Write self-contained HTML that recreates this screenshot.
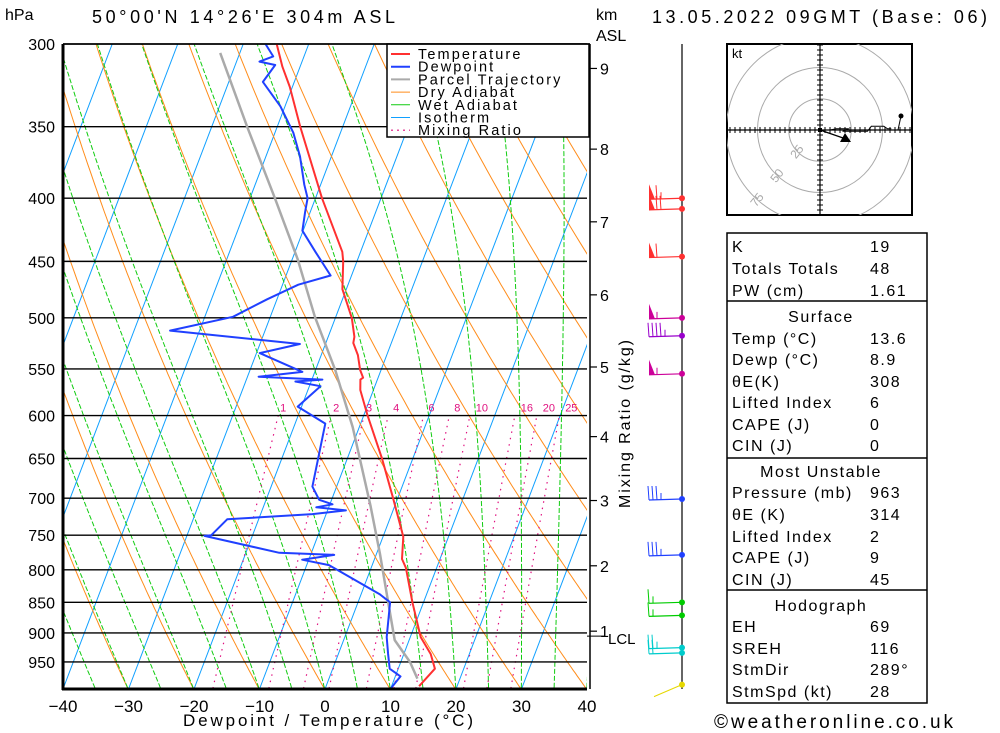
<!DOCTYPE html>
<html><head><meta charset="utf-8"><style>
html,body{margin:0;padding:0;background:#fff;}
svg{display:block;font-family:"Liberation Sans",sans-serif;}
</style></head><body>
<svg id="chart" width="1000" height="733" viewBox="0 0 1000 733">
<defs><clipPath id="plotclip"><rect x="63" y="44" width="524" height="645"/></clipPath>
<clipPath id="hodoclip"><rect x="727" y="44" width="185" height="171"/></clipPath></defs>
<rect x="0" y="0" width="1000" height="733" fill="#fff"/>
<g id="bg" clip-path="url(#plotclip)"></g>
<g id="plines"></g>
<g id="profiles" clip-path="url(#plotclip)"></g>
<g id="legend">
<rect x="387" y="44" width="202" height="93" fill="#fff" stroke="#000" stroke-width="1.5"/>
</g>
<g id="axes"></g>
<g id="winds"></g>
<g id="hodo"></g>
<g id="table"></g>
<text x="5" y="20" font-size="16">hPa</text>
<text x="92" y="23" font-size="18" textLength="303" lengthAdjust="spacing">50°00'N 14°26'E 304m ASL</text>
<text x="596" y="20" font-size="16">km</text>
<text x="596" y="41" font-size="16">ASL</text>
<text x="652" y="23" font-size="18" textLength="335" lengthAdjust="spacing">13.05.2022 09GMT (Base: 06)</text>
<text x="183" y="726" font-size="17" textLength="290" lengthAdjust="spacing">Dewpoint / Temperature (°C)</text>
<text x="714" y="728" font-size="19" textLength="239" lengthAdjust="spacing">©weatheronline.co.uk</text>
<text transform="translate(630,424) rotate(-90)" x="-84" y="0" font-size="16" textLength="168" lengthAdjust="spacing">Mixing Ratio (g/kg)</text>
</svg>
<script>
// ---- data ----
const tempP=[300,313,325,350,400,442,450,474,500,518,524,536,551,559,561,572,600,650,700,752,784,797,850,907,936,962,994];
const tempT=[-44.9,-42.7,-40.4,-36.5,-29.0,-22.8,-22.1,-20.6,-17.5,-16.0,-15.8,-14.4,-13.2,-12.3,-12.6,-12.0,-9.4,-4.7,-0.7,3.1,4.2,5.3,8.3,11.6,14.1,15.6,14.2];
const dewP=[300,307,310,312,322,337,354,370,390,400,410,425,442,462,470,483,499,512,525,534,553,558,561,563,568,590,609,639,685,702,708,712,716,721,728,750,751,775,778,785,793,837,850,907,936,962,976,1001];
const dewT=[-46.6,-44.7,-46.5,-43.9,-44.8,-40.7,-37.2,-34.8,-32.5,-31.2,-30.8,-30.1,-26.9,-23.2,-27.6,-31.5,-35.7,-44.5,-23.9,-29.5,-21.9,-28.3,-18.4,-22.4,-18.3,-20.6,-15.4,-14.7,-13.7,-11.9,-9.6,-11.9,-7.2,-12.1,-24.8,-26.3,-27.3,-14.9,-6.4,-11.0,-6.6,2.8,4.9,6.4,7.6,8.7,10.8,9.9];
const parcelP=[305,350,400,448,499,551,613,710,776,850,912,950,980];
const parcelT=[-53.0,-44.6,-36.2,-29.2,-23.2,-17.0,-11.0,-3.7,0.5,4.6,7.8,11.4,13.5];
const pressureTicks=[300,350,400,450,500,550,600,650,700,750,800,850,900,950];
const tempTicks=[-40,-30,-20,-10,0,10,20,30,40];
const mixRatios=[1,2,3,4,6,8,10,16,20,25];
const kmTicks=[1,2,3,4,5,6,7,8,9];
const kmPressure=[897,794,703,624,548,479,418,365,314];
const windP=[400,408,446,500,517,555,701,778,850,871,925,934,991];
const windSpd=[65,70,60,55,45,55,35,35,15,15,25,20,5];
const windColor=['#ff3030','#ff3030','#ff3030','#cc0099','#9900cc','#cc0099','#2040ff','#2040ff','#00cc00','#00cc00','#00cccc','#00cccc','#e6d800'];
// ---- axis functions ----
const X0=63,X1=587,Y0=44,Y1=689,PXC=6.55,SK=0.381,LN=536.1;
function yP(p){return Y0+LN*Math.log(p/300);}
function xT(T,y){return X0+(T+40)*PXC+(Y1-y)*SK;}
const NS='http://www.w3.org/2000/svg';
function el(tag,attrs,parent){const e=document.createElementNS(NS,tag);for(const k in attrs)e.setAttribute(k,attrs[k]);parent.appendChild(e);return e;}
function pts(arr){return arr.map(a=>a[0].toFixed(1)+','+a[1].toFixed(1)).join(' ');}
const bg=document.getElementById('bg');
// isotherms
for(let T=-120;T<=40;T+=10){
 const l=el('line',{x1:xT(T,Y1),y1:Y1,x2:xT(T,Y0),y2:Y0,stroke:'#10a0ff','stroke-width':1},bg);
 
 
}
// dry adiabats
for(let T0=-40;T0<=220;T0+=10){
 const th=T0+273.15;const a=[];
 for(let p=1010;p>=295;p-=5){const T=th*Math.pow(p/1000,0.286)-273.15;const y=yP(p);a.push([xT(T,y),y]);}
 const l=el('polyline',{points:pts(a),fill:'none',stroke:'#ff8c1a','stroke-width':1},bg);
 
 
}
// moist adiabats
function es(Tc){return 6.112*Math.exp(17.67*Tc/(Tc+243.5));}
for(let T0=-40;T0<=40;T0+=5){
 let T=T0+273.15;const a=[];
 for(let p=1000;p>=295;p-=2){
  const y=yP(p);a.push([xT(T-273.15,y),y]);
  const e=es(T-273.15);const rs=0.622*e/(p-e);
  const d=(287*T+2.5e6*rs)/p/(1004+2.5e6*2.5e6*rs*0.622/(287*T*T));
  T-=d*2;
 }
 a.unshift([xT(T0+0.3,yP(1010)),yP(1010)]);
 const l=el('polyline',{points:pts(a),fill:'none',stroke:'#10cc10','stroke-width':1,'stroke-dasharray':'5,2'},bg);
 
 
}
// mixing ratio
function tdw(w,p){const e=w*p/(622+w);const L=Math.log(e/6.112);return 243.5*L/(17.67-L);}
mixRatios.forEach(w=>{
 const a=[];for(let p=1010;p>=600;p-=5){const y=yP(p);a.push([xT(tdw(w,p),y),y]);}
 const l=el('polyline',{points:pts(a),fill:'none',stroke:'#e0107f','stroke-width':1.2,'stroke-dasharray':'1.5,5'},bg);
 
 
 const y=yP(600);
 const t=el('text',{x:xT(tdw(w,600),y)+(w<4?5:w<10?8:12),y:y-4,'font-size':11,fill:'#e0107f','text-anchor':'middle'},bg);
 t.textContent=w;
 
 
});
// pressure lines + labels
const pl=document.getElementById('plines');
pressureTicks.forEach(p=>{
 const y=yP(p);
 const l=el('line',{x1:X0,y1:y,x2:X1,y2:y,stroke:'#000','stroke-width':1.4},pl);
 
 
 const t=el('text',{x:55,y:y+6,'font-size':16,'text-anchor':'end'},pl);
 t.textContent=p;
 
 
});
// profiles
const pr=document.getElementById('profiles');
function prof(P,T,color,w,name){
 const a=P.map((p,i)=>{const y=yP(p);return [xT(T[i],y),y];});
 const l=el('polyline',{points:pts(a),fill:'none',stroke:color,'stroke-width':w,'stroke-linejoin':'round'},pr);
 
 
}
prof(parcelP,parcelT,'#aaaaaa',2.5,'parcel-trajectory-line');
prof(dewP,dewT,'#2040ff',2,'dewpoint-line');
prof(tempP,tempT,'#ff3030',2,'temperature-line');
// legend
const lg=document.getElementById('legend');
const legItems=[['Temperature','#ff3030',2,''],['Dewpoint','#2040ff',2,''],['Parcel Trajectory','#aaaaaa',2,''],['Dry Adiabat','#ff8c1a',1,''],['Wet Adiabat','#10cc10',1,''],['Isotherm','#10a0ff',1,''],['Mixing Ratio','#e0107f',1.2,'2,4']];
legItems.forEach((it,i)=>{
 const y=54+i*12.7;
 const l=el('line',{x1:391,y1:y,x2:410,y2:y,stroke:it[1],'stroke-width':it[2],'stroke-dasharray':it[3]||'none'},lg);
 
 
 const t=el('text',{x:418,y:y+5,'font-size':14.5,'letter-spacing':'2.1'},lg);
 t.textContent=it[0];
 
 
});
// axes
const ax=document.getElementById('axes');
el('line',{x1:X0,y1:Y0,x2:X0,y2:Y1+1,stroke:'#000','stroke-width':3},ax);
el('line',{x1:X0-1,y1:Y1,x2:X1,y2:Y1,stroke:'#000','stroke-width':3},ax);
el('line',{x1:X0,y1:Y0,x2:590,y2:Y0,stroke:'#000','stroke-width':1.5},ax);
el('line',{x1:590,y1:Y0,x2:590,y2:Y1,stroke:'#000','stroke-width':1.5},ax);
tempTicks.forEach(T=>{
 const t=el('text',{x:xT(T,Y1),y:712,'font-size':17,'text-anchor':'middle'},ax);
 t.textContent=(T<0?'\u2212'+(-T):T);
 
 
});
kmTicks.forEach((k,i)=>{
 const y=yP(kmPressure[i]);
 el('line',{x1:590,y1:y,x2:597,y2:y,stroke:'#000','stroke-width':1.2},ax);
 const t=el('text',{x:600,y:y+6,'font-size':16},ax);
 t.textContent=k;
 
 
});
const lcl=el('text',{x:608,y:yP(kmPressure[0])+13,'font-size':15},ax);
lcl.textContent='LCL';


el('line',{x1:587,y1:yP(kmPressure[0])+5,x2:605,y2:yP(kmPressure[0])+5,stroke:'#000','stroke-width':1},ax);
// winds
const wg=document.getElementById('winds');
el('line',{x1:682,y1:Y0,x2:682,y2:Y1,stroke:'#000','stroke-width':1.2},wg);
windP.forEach((p,i)=>{
 const y=yP(p),c=windColor[i],s=windSpd[i];
 const g=el('g',{},wg);
 
 
 if(s<=5){el('line',{x1:682,y1:y,x2:654,y2:y+12,stroke:c,'stroke-width':1},g);el('circle',{cx:682,cy:y,r:3,fill:c},g);return;}
 const xe=649,ye=y+1;
 el('line',{x1:682,y1:y,x2:xe,y2:ye,stroke:c,'stroke-width':1.2},g);
 el('circle',{cx:682,cy:y,r:3,fill:c},g);
 let rem=s,x=xe;
 while(rem>=50){el('polygon',{points:`${x},${ye} ${x},${ye-15} ${x+6},${ye}`,fill:c},g);x+=8;rem-=50;}
 while(rem>=10){el('line',{x1:x,y1:ye,x2:x-1,y2:ye-14,stroke:c,'stroke-width':1},g);x+=4;rem-=10;}
 if(rem>=5){el('line',{x1:x,y1:ye,x2:x,y2:ye-7,stroke:c,'stroke-width':1},g);}
});
// hodograph
const hg=document.getElementById('hodo');
const HX=820,HY=130;
const hodoRings=[25,50,75];
const hodoU=[0,8,13,23,18,38,41,51,54,57];
const hodoV=[0,0,-1,-1,1,1,-3,-3,-1,-1];
el('rect',{x:727,y:44,width:185,height:171,fill:'#fff',stroke:'#000','stroke-width':2},hg);
const hc=el('g',{'clip-path':'url(#hodoclip)'},hg);
hodoRings.forEach(r=>{
 el('circle',{cx:HX,cy:HY,r:r*1.25,fill:'none',stroke:'#aaa','stroke-width':1},hc);
 const a=Math.PI*0.72,rr=r*1.25;
 const t=el('text',{x:HX+Math.cos(a)*rr,y:HY+Math.sin(a)*rr,'font-size':12,fill:'#aaa','text-anchor':'middle',transform:`rotate(-52 ${HX+Math.cos(a)*rr} ${HY+Math.sin(a)*rr})`},hc);
 t.textContent=r;
 
 
});
el('line',{x1:727,y1:HY,x2:912,y2:HY,stroke:'#000','stroke-width':1.2},hc);
el('line',{x1:HX,y1:44,x2:HX,y2:215,stroke:'#000','stroke-width':1.2},hc);
for(let d=-95;d<=95;d+=5){el('line',{x1:HX+d,y1:HY-3,x2:HX+d,y2:HY+3,stroke:'#000'},hc);el('line',{x1:HX-3,y1:HY+d,x2:HX+3,y2:HY+d,stroke:'#000'},hc);}
const hodoPts=hodoU.map((u,i)=>[HX+u*1.25,HY+hodoV[i]*1.25]);
el('polyline',{points:pts(hodoPts),fill:'none',stroke:'#000','stroke-width':1},hc);
el('line',{x1:HX,y1:HY,x2:HX+26,y2:HY+9,stroke:'#000','stroke-width':1.2},hc);
el('polygon',{points:`${HX+20},${HY+12} ${HX+25},${HY+3} ${HX+31},${HY+12}`,fill:'#000'},hc);
el('line',{x1:898,y1:HY,x2:901,y2:116,stroke:'#000','stroke-width':1},hc);
el('circle',{cx:901,cy:116,r:2.5,fill:'#000'},hc);
el('rect',{x:HX-2,y:HY-2,width:4,height:4,fill:'#000'},hc);
const kt=el('text',{x:732,y:58,'font-size':13},hg);kt.textContent='kt';
// table
const tb=document.getElementById('table');
el('rect',{x:727,y:233,width:200,height:470,fill:'#fff',stroke:'#000','stroke-width':1.5},tb);
[301,458,590].forEach(y=>el('line',{x1:727,y1:y,x2:927,y2:y,stroke:'#000','stroke-width':1.5},tb));
const rows=[
 ['K','19',246],['Totals Totals','48',268],['PW (cm)','1.61',290],
 ['#Surface','',316],['Temp (°C)','13.6',338],['Dewp (°C)','8.9',359],['θE(K)','308',381],['Lifted Index','6',402],['CAPE (J)','0',424],['CIN (J)','0',445],
 ['#Most Unstable','',471],['Pressure (mb)','963',492],['θE (K)','314',514],['Lifted Index','2',536],['CAPE (J)','9',557],['CIN (J)','45',579],
 ['#Hodograph','',605],['EH','69',626],['SREH','116',648],['StmDir','289°',669],['StmSpd (kt)','28',691]];
rows.forEach(r=>{
 if(r[0][0]==='#'){const t=el('text',{x:821,y:r[2]+6,'font-size':16,'text-anchor':'middle','letter-spacing':'1.5'},tb);t.textContent=r[0].slice(1);
  
  return;}
 const t=el('text',{x:732,y:r[2]+6,'font-size':16,'letter-spacing':'1.5'},tb);
 t.textContent=r[0];
 
 
 const v=el('text',{x:870,y:r[2]+6,'font-size':16,'letter-spacing':'1.5'},tb);
 v.textContent=r[1];
 
 
});
</script>
</body></html>
